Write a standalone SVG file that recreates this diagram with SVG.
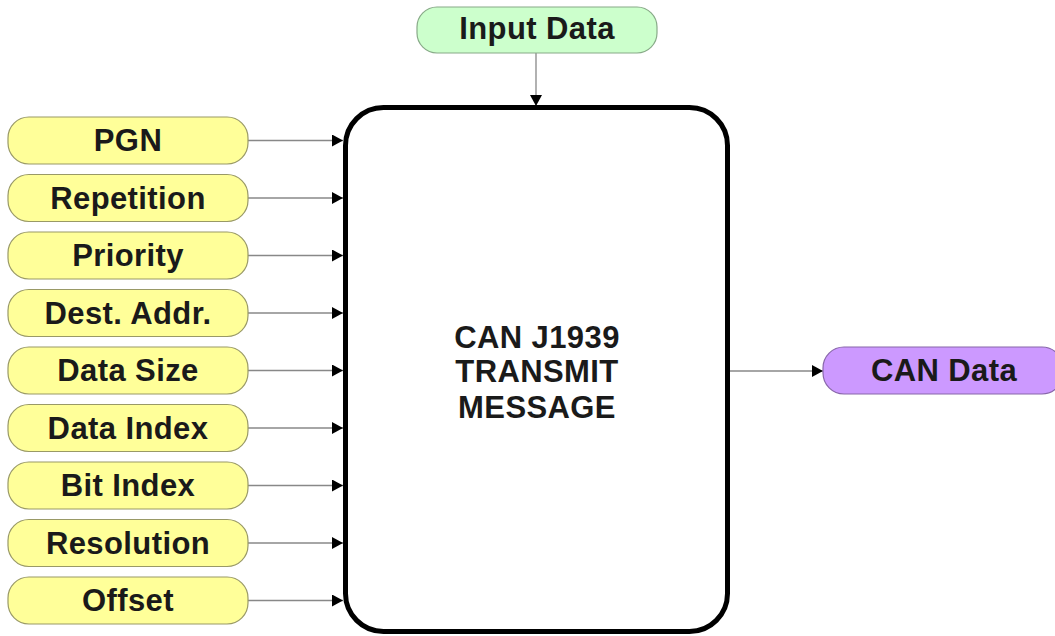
<svg xmlns="http://www.w3.org/2000/svg" width="1055" height="636" viewBox="0 0 1055 636">
<defs>
<style>
.lbl{font-family:"Liberation Sans",Arial,sans-serif;font-weight:bold;font-size:31px;letter-spacing:0.4px;fill:#1a1a1a;text-anchor:middle;dominant-baseline:central}
.in{fill:#ffff99;stroke:#999966;stroke-width:1.2}
.con{stroke:#888;stroke-width:1.3;fill:none;marker-end:url(#ah)}
</style>
<marker id="ah" markerWidth="12" markerHeight="12" refX="11" refY="6" orient="auto" markerUnits="userSpaceOnUse">
<path d="M0,0 L11,6 L0,12 Z" fill="#000"/>
</marker>
</defs>
<rect width="1055" height="636" fill="#fff"/>
<g id="connectors">
<line class="con" x1="536" y1="53" x2="536" y2="106"/>
<line class="con" x1="248" y1="140.5" x2="343" y2="140.5"/>
<line class="con" x1="248" y1="198" x2="343" y2="198"/>
<line class="con" x1="248" y1="255.5" x2="343" y2="255.5"/>
<line class="con" x1="248" y1="313" x2="343" y2="313"/>
<line class="con" x1="248" y1="370.5" x2="343" y2="370.5"/>
<line class="con" x1="248" y1="428" x2="343" y2="428"/>
<line class="con" x1="248" y1="485.5" x2="343" y2="485.5"/>
<line class="con" x1="248" y1="543" x2="343" y2="543"/>
<line class="con" x1="248" y1="600.5" x2="343" y2="600.5"/>
<line class="con" x1="730" y1="371" x2="823" y2="371"/>
</g>
<g id="main">
<rect x="345.5" y="107.5" width="382" height="524" rx="38" ry="38" fill="#fff" stroke="#000" stroke-width="5"/>
<text class="lbl" x="537" y="337">CAN J1939</text>
<text class="lbl" x="537" y="371">TRANSMIT</text>
<text class="lbl" x="537" y="407">MESSAGE</text>
</g>
<g id="input-data">
<rect x="417" y="7" width="240" height="46" rx="20" fill="#ccffcc" stroke="#88aa88" stroke-width="1.2"/>
<text class="lbl" x="537" y="28">Input Data</text>
</g>
<g id="pgn"><rect class="in" x="8" y="117" width="240" height="47" rx="21"/><text class="lbl" x="128" y="140.5">PGN</text></g>
<g id="repetition"><rect class="in" x="8" y="174.5" width="240" height="47" rx="21"/><text class="lbl" x="128" y="198">Repetition</text></g>
<g id="priority"><rect class="in" x="8" y="232" width="240" height="47" rx="21"/><text class="lbl" x="128" y="255.5">Priority</text></g>
<g id="dest-addr"><rect class="in" x="8" y="289.5" width="240" height="47" rx="21"/><text class="lbl" x="128" y="313">Dest. Addr.</text></g>
<g id="data-size"><rect class="in" x="8" y="347" width="240" height="47" rx="21"/><text class="lbl" x="128" y="370.5">Data Size</text></g>
<g id="data-index"><rect class="in" x="8" y="404.5" width="240" height="47" rx="21"/><text class="lbl" x="128" y="428">Data Index</text></g>
<g id="bit-index"><rect class="in" x="8" y="462" width="240" height="47" rx="21"/><text class="lbl" x="128" y="485.5">Bit Index</text></g>
<g id="resolution"><rect class="in" x="8" y="519.5" width="240" height="47" rx="21"/><text class="lbl" x="128" y="543">Resolution</text></g>
<g id="offset"><rect class="in" x="8" y="577" width="240" height="47" rx="21"/><text class="lbl" x="128" y="600.5">Offset</text></g>
<g id="can-data">
<rect x="823" y="347" width="240" height="47" rx="21" fill="#cc99ff" stroke="#8866aa" stroke-width="1.2"/>
<text class="lbl" x="944" y="370.5">CAN Data</text>
</g>
</svg>
